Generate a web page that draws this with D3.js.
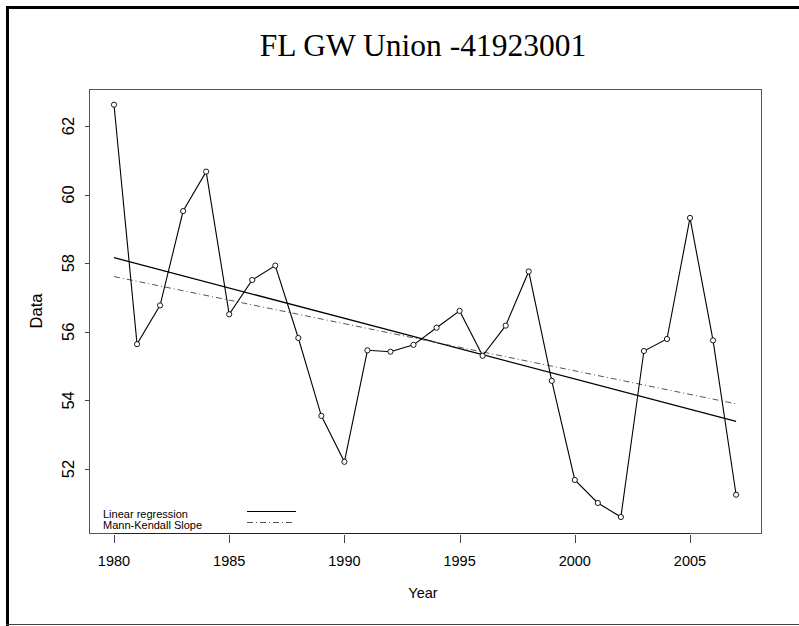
<!DOCTYPE html>
<html>
<head>
<meta charset="utf-8">
<script src="https://cdn.jsdelivr.net/npm/d3@7"></script>
<style>
  html, body { margin: 0; padding: 0; background: #fff; }
  svg { display: block; }
  text { font-family: "Liberation Sans", Arial, sans-serif; fill: #000; }
</style>
</head>
<body>
<svg id="chart" width="799" height="626"></svg>
<script>
// ---- data ----
const title = "FL GW Union -41923001";
const years = [1980,1981,1982,1983,1984,1985,1986,1987,1988,1989,1990,1991,1992,1993,
               1994,1995,1996,1997,1998,1999,2000,2001,2002,2003,2004,2005,2006,2007];
const values = [62.62,55.64,56.77,59.52,60.67,56.51,57.51,57.93,55.82,53.55,52.21,55.46,55.42,55.62,
                56.12,56.61,55.30,56.18,57.76,54.57,51.68,51.01,50.60,55.44,55.79,59.32,55.75,51.25];
const regressionEnds = [58.16, 53.39];   // linear regression at 1980 and 2007
const mannKendallEnds = [57.61, 53.90];  // Mann-Kendall (Sen) slope at 1980 and 2007
const xTicks = [1980,1985,1990,1995,2000,2005];
const yTicks = [52,54,56,58,60,62];
const legendLabels = ["Linear regression", "Mann-Kendall Slope"];

// ---- layout ----
const svg = d3.select("#chart");
const box = {left: 89, right: 761, top: 89, bottom: 533};

const x = d3.scaleLinear().domain([1980, 2005]).range([114, 690]);
const y = d3.scaleLinear().domain([52, 62]).range([469, 126]);

// outer frame
svg.append("line").attr("x1", 7.5).attr("x2", 7.5).attr("y1", 6).attr("y2", 626)
  .attr("stroke", "#000").attr("stroke-width", 3);
svg.append("line").attr("x1", 6).attr("x2", 799).attr("y1", 7.5).attr("y2", 7.5)
  .attr("stroke", "#000").attr("stroke-width", 3);
svg.append("line").attr("x1", 6).attr("x2", 799).attr("y1", 624.5).attr("y2", 624.5)
  .attr("stroke", "#444").attr("stroke-width", 1.2);

// title
svg.append("text").attr("x", 423).attr("y", 56)
  .attr("text-anchor", "middle")
  .style("font-family", "'Liberation Serif', 'Times New Roman', serif")
  .style("font-size", "31.5px")
  .text(title);

// plot box
svg.append("rect").attr("x", box.left + 0.5).attr("y", box.top + 0.5)
  .attr("width", box.right - box.left).attr("height", box.bottom - box.top)
  .attr("fill", "none").attr("stroke", "#555").attr("stroke-width", 1);

// x axis
const xAxis = svg.append("g");
xAxis.append("line")
  .attr("x1", x(xTicks[0])).attr("x2", x(xTicks[xTicks.length - 1]))
  .attr("y1", box.bottom + 0.5).attr("y2", box.bottom + 0.5)
  .attr("stroke", "#222").attr("stroke-width", 1.2);
xAxis.selectAll(".xt").data(xTicks).enter().append("line")
  .attr("x1", d => Math.round(x(d)) + 0.5).attr("x2", d => Math.round(x(d)) + 0.5)
  .attr("y1", box.bottom + 2).attr("y2", box.bottom + 10)
  .attr("stroke", "#444").attr("stroke-width", 1);
xAxis.selectAll(".xl").data(xTicks).enter().append("text")
  .attr("x", d => x(d)).attr("y", 566)
  .attr("text-anchor", "middle")
  .style("font-size", "14.5px")
  .text(d => d);

// y axis
const yAxis = svg.append("g");
yAxis.selectAll(".yt").data(yTicks).enter().append("line")
  .attr("x1", box.left - 4).attr("x2", box.left)
  .attr("y1", d => Math.round(y(d)) + 0.5).attr("y2", d => Math.round(y(d)) + 0.5)
  .attr("stroke", "#444").attr("stroke-width", 1);
yAxis.selectAll(".yl").data(yTicks).enter().append("text")
  .attr("transform", d => `translate(74,${y(d)}) rotate(-90)`)
  .attr("text-anchor", "middle")
  .style("font-size", "16.5px")
  .text(d => d);

// axis titles
svg.append("text").attr("x", 423).attr("y", 598)
  .attr("text-anchor", "middle").style("font-size", "14.5px").text("Year");
svg.append("text").attr("transform", "translate(42,311) rotate(-90)")
  .attr("text-anchor", "middle").style("font-size", "16.5px").text("Data");

// trend lines
const first = years[0], last = years[years.length - 1];
svg.append("line")
  .attr("x1", x(first)).attr("y1", y(regressionEnds[0]))
  .attr("x2", x(last)).attr("y2", y(regressionEnds[1]))
  .attr("stroke", "#000").attr("stroke-width", 1.3);
svg.append("line")
  .attr("x1", x(first)).attr("y1", y(mannKendallEnds[0]))
  .attr("x2", x(last)).attr("y2", y(mannKendallEnds[1]))
  .attr("stroke", "#555").attr("stroke-width", 1)
  .attr("stroke-dasharray", "6,3,1,3");

// data line
const pts = years.map((yr, i) => [yr, values[i]]);
svg.append("path").datum(pts)
  .attr("d", d3.line().x(d => x(d[0])).y(d => y(d[1])))
  .attr("fill", "none").attr("stroke", "#000").attr("stroke-width", 1.1);
svg.selectAll(".pt").data(pts).enter().append("circle")
  .attr("cx", d => x(d[0])).attr("cy", d => y(d[1])).attr("r", 2.6)
  .attr("fill", "#fff").attr("stroke", "#000").attr("stroke-width", 0.9);

// legend
const lg = svg.append("g");
lg.selectAll("text").data(legendLabels).enter().append("text")
  .attr("x", 103).attr("y", (d, i) => 517.5 + i * 11.5)
  .style("font-size", "11px")
  .text(d => d);
lg.append("line").attr("x1", 247).attr("x2", 296).attr("y1", 511.5).attr("y2", 511.5)
  .attr("stroke", "#000").attr("stroke-width", 1.2);
lg.append("line").attr("x1", 247).attr("x2", 294).attr("y1", 522.5).attr("y2", 522.5)
  .attr("stroke", "#555").attr("stroke-width", 1)
  .attr("stroke-dasharray", "6,3,1,3");
</script>
</body>
</html>
